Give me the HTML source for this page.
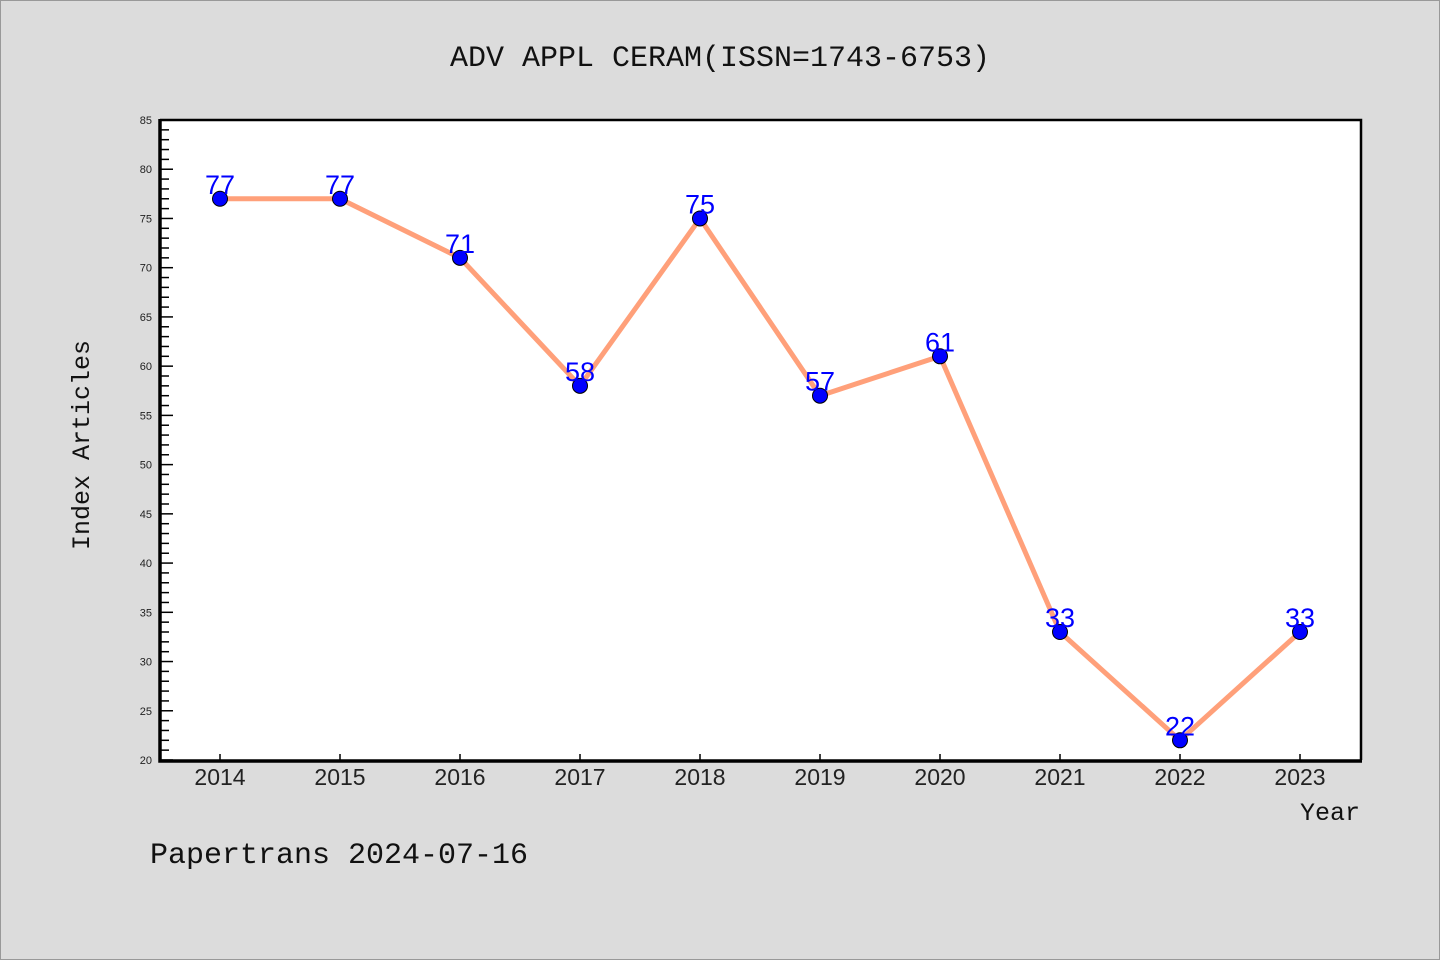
<!DOCTYPE html>
<html><head><meta charset="utf-8"><style>
body{margin:0;background:#dcdcdc;}
svg{display:block;font-family:"Liberation Sans","WenQuanYi Zen Hei",sans-serif;}
</style></head><body>
<svg id="chart" width="1440" height="960">
<rect x="0.5" y="0.5" width="1439" height="959" fill="#dcdcdc" stroke="#999"/>
<text x="720" y="66" text-anchor="middle" font-size="30" font-family="'WenQuanYi Zen Hei','Liberation Mono',monospace" fill="#111">ADV APPL CERAM(ISSN=1743-6753)</text>
<rect x="160" y="120" width="1201" height="640" fill="#fff"/>
<g id="yticks"></g><g id="xticks"></g>
<polyline points="160,120 1361,120 1361,760" fill="none" stroke="#000" stroke-width="2.5"/>
<polyline points="160,119 160,761 1362,761" fill="none" stroke="#000" stroke-width="3.5"/>
<g id="series"></g>
<text transform="translate(89,445) rotate(-90)" text-anchor="middle" font-size="25" font-family="'WenQuanYi Zen Hei','Liberation Mono',monospace" fill="#111">Index Articles</text>
<text x="1360" y="820" text-anchor="end" font-size="25" font-family="'WenQuanYi Zen Hei','Liberation Mono',monospace" fill="#111">Year</text>
<text x="150" y="863" font-size="30" font-family="'WenQuanYi Zen Hei','Liberation Mono',monospace" fill="#111">Papertrans 2024-07-16</text>
</svg>
<script>
const years=["2014","2015","2016","2017","2018","2019","2020","2021","2022","2023"];
const values=[77,77,71,58,75,57,61,33,22,33];
const yTickLabels=["20","25","30","35","40","45","50","55","60","65","70","75","80","85"];
const NS="http://www.w3.org/2000/svg";
const yMin=20,yMax=85;
function yS(v){return 760-(v-yMin)/(yMax-yMin)*640;}
function xS(i){return 220+i*120;}
function mk(t,a,p){const e=document.createElementNS(NS,t);for(const k in a)e.setAttribute(k,a[k]);p.appendChild(e);return e;}
const yt=document.getElementById('yticks');
for(let v=yMin;v<=yMax;v++){const major=(v%5===0);
const l=mk('line',{x1:160,x2:major?173:169,y1:yS(v),y2:yS(v),stroke:'#000','stroke-width':1.5},yt);

}
yTickLabels.forEach(s=>{const t=mk('text',{x:152,y:yS(+s)+4,'text-anchor':'end','font-size':11,fill:'#222'},yt);t.textContent=s;

});
const xt=document.getElementById('xticks');
years.forEach((y,i)=>{const l=mk('line',{x1:xS(i),x2:xS(i),y1:760,y2:754,stroke:'#000','stroke-width':1.5},xt);


const t=mk('text',{x:xS(i),y:785,'text-anchor':'middle','font-size':23,fill:'#222'},xt);t.textContent=y;

});
const sg=document.getElementById('series');
const pl=mk('polyline',{points:values.map((v,i)=>xS(i)+','+yS(v)).join(' '),fill:'none',stroke:'#ffa07a','stroke-width':5,'stroke-linejoin':'round'},sg);


values.forEach((v,i)=>{const c=mk('circle',{cx:xS(i),cy:yS(v),r:7.5,fill:'#0000ff',stroke:'#000','stroke-width':1},sg);


const t=mk('text',{x:xS(i),y:yS(v)-5,'text-anchor':'middle','font-size':27,fill:'#0000ff'},sg);t.textContent=v;

});
</script>
</body></html>
